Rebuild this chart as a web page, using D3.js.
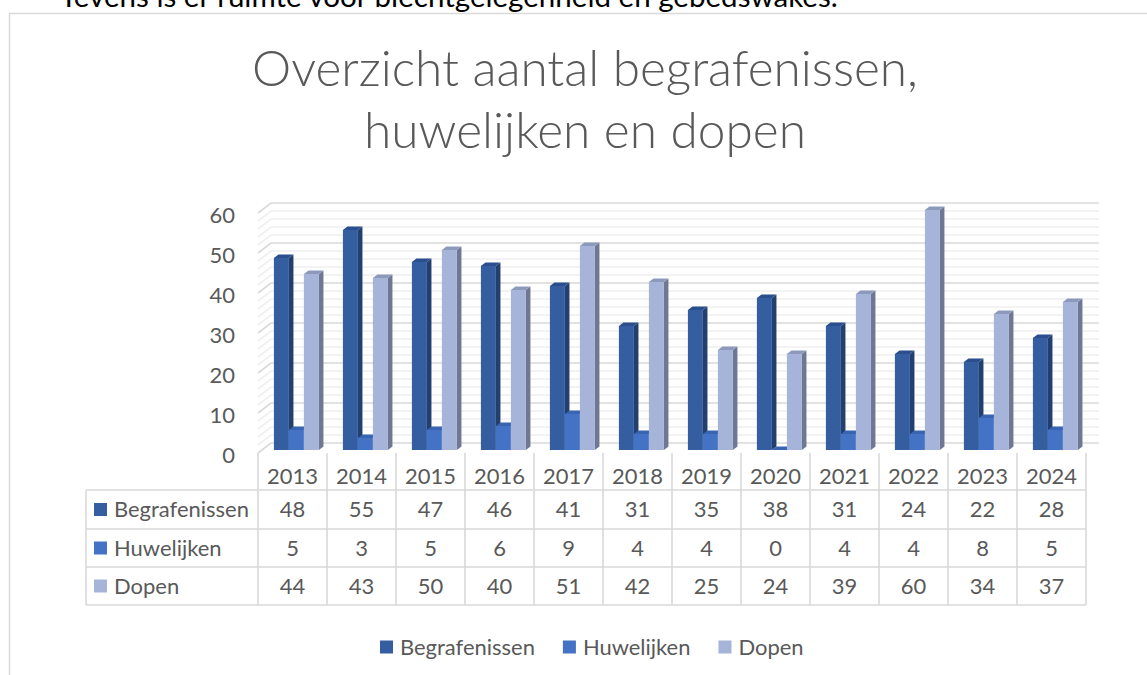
<!DOCTYPE html>
<html>
<head>
<meta charset="utf-8">
<script src="https://cdn.jsdelivr.net/npm/d3@7"></script>
<style>
  html, body { margin: 0; padding: 0; background: #fff; overflow: hidden; }
  svg { display: block; }
</style>
</head>
<body>
<div id="chart"></div>
<script>
// data
const years = ['2013', '2014', '2015', '2016', '2017', '2018', '2019', '2020', '2021', '2022', '2023', '2024'];
const begrafenissen = [48, 55, 47, 46, 41, 31, 35, 38, 31, 24, 22, 28];
const huwelijken = [5, 3, 5, 6, 9, 4, 4, 0, 4, 4, 8, 5];
const dopen = [44, 43, 50, 40, 51, 42, 25, 24, 39, 60, 34, 37];
const seriesNames = ['Begrafenissen', 'Huwelijken', 'Dopen'];
const yTicks = [0, 10, 20, 30, 40, 50, 60];
const titleLines = ['Overzicht aantal begrafenissen,', 'huwelijken en dopen'];
const introText = 'Tevens is er ruimte voor biechtgelegenheid en gebedswakes.';

const seriesValues = [begrafenissen, huwelijken, dopen];

const width = 1147;
const height = 675;
const textColor = '#595959';
const font = 'Lato, "Open Sans", "DejaVu Sans", sans-serif';

// front, side, top colours per series
const colors = [
    { front: '#355ea1', side: '#233f6e', top: '#2b4e8e' },
    { front: '#4472c4', side: '#2f508a', top: '#3964b1' },
    { front: '#a6b4d9', side: '#6e7893', top: '#8d99bb' }
];

const svg = d3.select('#chart')
    .append('svg')
    .attr('width', width)
    .attr('height', height);

// scale a text's font size so that it is targetWidth wide
function fitText(sel, targetWidth) {
    const w = sel.node().getComputedTextLength();
    const fs = parseFloat(sel.attr('font-size'));
    sel.attr('font-size', fs * targetWidth / w);
    return fs * targetWidth / w;
}

// body font size, from the width of 'Begrafenissen' in the reference
const probe = svg.append('text').attr('font-family', font).attr('font-size', 24).text(seriesNames[0]);
const bodySize = fitText(probe, 135);
probe.remove();

// text of the document behind the chart, cut off at the top
const intro = svg.append('text')
    .attr('x', 60)
    .attr('y', 7)
    .attr('font-family', font)
    .attr('font-size', 28)
    .attr('fill', '#000')
    .text(introText);
fitText(intro, 778);

// chart frame
svg.append('rect')
    .attr('x', 0).attr('y', 12)
    .attr('width', width).attr('height', height)
    .attr('fill', '#fff');
svg.append('path')
    .attr('d', 'M9.5,' + height + 'V13.5H' + width)
    .attr('fill', 'none')
    .attr('stroke', '#d9d9d9')
    .attr('stroke-width', 1.5);

// title
titleLines.forEach((line, i) => {
    const t = svg.append('text')
        .attr('x', 585)
        .attr('y', 86 + i * 62)
        .attr('text-anchor', 'middle')
        .attr('font-family', font)
        .attr('font-weight', 300)
        .attr('font-size', 54)
        .attr('fill', textColor)
        .text(line);
    fitText(t, i === 0 ? 666 : 442);
});

// scales
const x = d3.scaleBand()
    .domain(years)
    .range([258, 1086]);

const xInner = d3.scaleBand()
    .domain(seriesNames)
    .range([12, 57]);

const y = d3.scaleLinear()
    .domain([0, 60])
    .range([453, 213]);

// 3d depth: z from 0 (front) to 1 (back wall)
const depthX = 13;
const depthY = 10;
const px = (xv, z) => xv + depthX * z;
const py = (yv, z) => yv - depthY * z;

const x0 = x.range()[0];
const x1 = x.range()[1];

// grid lines on back wall and left wall, minor every 2
const gridValues = d3.range(0, 61, 2);
const grid = svg.append('g').classed('grid', true);
gridValues.forEach(v => {
    const major = v % 10 === 0;
    const stroke = major ? '#d9d9d9' : '#efefef';
    grid.append('path')
        .attr('d', 'M' + px(x0, 0) + ',' + py(y(v), 0) +
            'L' + px(x0, 1) + ',' + py(y(v), 1) +
            'L' + px(x1, 1) + ',' + py(y(v), 1))
        .attr('fill', 'none')
        .attr('stroke', stroke)
        .attr('stroke-width', 1.6);
});

// y axis labels
const yAxis = d3.axisLeft(y)
    .tickValues(yTicks)
    .tickSize(0)
    .tickPadding(0);

svg.append('g')
    .classed('y-axis', true)
    .attr('transform', 'translate(235,2)')
    .call(yAxis)
    .call(g => g.select('.domain').remove())
    .selectAll('text')
    .attr('font-family', font)
    .attr('font-size', bodySize)
    .attr('fill', textColor);

// bars
const zFront = 0.3;
const zBack = 0.65;
const bars = svg.append('g').classed('bars', true);

years.forEach((year, i) => {
    seriesNames.forEach((name, s) => {
        const v = seriesValues[s][i];
        const bx0 = x(year) + xInner(name);
        const bx1 = bx0 + xInner.bandwidth();
        const yTop = y(v);
        const yBase = y(0);
        const c = colors[s];
        const g = bars.append('g');

        // side face
        g.append('path')
            .attr('d', 'M' + px(bx1, zFront) + ',' + py(yTop, zFront) +
                'L' + px(bx1, zBack) + ',' + py(yTop, zBack) +
                'L' + px(bx1, zBack) + ',' + py(yBase, zBack) +
                'L' + px(bx1, zFront) + ',' + py(yBase, zFront) + 'Z')
            .attr('fill', c.side);

        // top face
        g.append('path')
            .attr('d', 'M' + px(bx0, zFront) + ',' + py(yTop, zFront) +
                'L' + px(bx1, zFront) + ',' + py(yTop, zFront) +
                'L' + px(bx1, zBack) + ',' + py(yTop, zBack) +
                'L' + px(bx0, zBack) + ',' + py(yTop, zBack) + 'Z')
            .attr('fill', c.top);

        // front face
        g.append('rect')
            .attr('x', px(bx0, zFront))
            .attr('y', py(yTop, zFront))
            .attr('width', xInner.bandwidth())
            .attr('height', yBase - yTop)
            .attr('fill', c.front);
    });
});

// data table
const tableTop = 453;
const rowTops = [490, 529, 567, 605];
const tableLeft = 86;
const lineColor = '#d9d9d9';
const table = svg.append('g').classed('data-table', true);

// horizontal lines
rowTops.forEach(ry => {
    table.append('line')
        .attr('x1', tableLeft).attr('x2', x1)
        .attr('y1', ry).attr('y2', ry)
        .attr('stroke', lineColor).attr('stroke-width', 1.6);
});

// vertical lines
table.append('line')
    .attr('x1', tableLeft).attr('x2', tableLeft)
    .attr('y1', rowTops[0]).attr('y2', rowTops[3])
    .attr('stroke', lineColor).attr('stroke-width', 1.6);

years.concat(['end']).forEach((year, i) => {
    const lx = i < years.length ? x(year) : x1;
    table.append('line')
        .attr('x1', lx).attr('x2', lx)
        .attr('y1', tableTop).attr('y2', rowTops[3])
        .attr('stroke', lineColor).attr('stroke-width', 1.6);
});

// header years
table.selectAll('text.year')
    .data(years)
    .enter()
    .append('text')
    .classed('year', true)
    .attr('x', d => x(d) + x.bandwidth() / 2)
    .attr('y', 476)
    .attr('dy', '0.35em')
    .attr('text-anchor', 'middle')
    .attr('font-family', font)
    .attr('font-size', bodySize)
    .attr('fill', textColor)
    .text(d => d);

// rows
seriesNames.forEach((name, s) => {
    const cy = (rowTops[s] + rowTops[s + 1]) / 2;
    table.append('rect')
        .attr('x', 94).attr('y', cy - 6.5)
        .attr('width', 13).attr('height', 13)
        .attr('fill', colors[s].front);
    table.append('text')
        .attr('x', 114)
        .attr('y', cy)
        .attr('dy', '0.35em')
        .attr('font-family', font)
        .attr('font-size', bodySize)
        .attr('fill', textColor)
        .text(name);
    table.selectAll('text.v' + s)
        .data(seriesValues[s])
        .enter()
        .append('text')
        .classed('v' + s, true)
        .attr('x', (d, i) => x(years[i]) + x.bandwidth() / 2)
        .attr('y', cy)
        .attr('dy', '0.35em')
        .attr('text-anchor', 'middle')
        .attr('font-family', font)
        .attr('font-size', bodySize)
        .attr('fill', textColor)
        .text(d => d);
});

// legend
const legend = svg.append('g').classed('legend', true);
const legendY = 647;
let lx = 380;
seriesNames.forEach((name, s) => {
    legend.append('rect')
        .attr('x', lx).attr('y', legendY - 6.5)
        .attr('width', 13).attr('height', 13)
        .attr('fill', colors[s].front);
    const t = legend.append('text')
        .attr('x', lx + 20)
        .attr('y', legendY)
        .attr('dy', '0.35em')
        .attr('font-family', font)
        .attr('font-size', bodySize)
        .attr('fill', textColor)
        .text(name);
    lx += 20 + t.node().getComputedTextLength() + 28;
});
</script>
</body>
</html>
